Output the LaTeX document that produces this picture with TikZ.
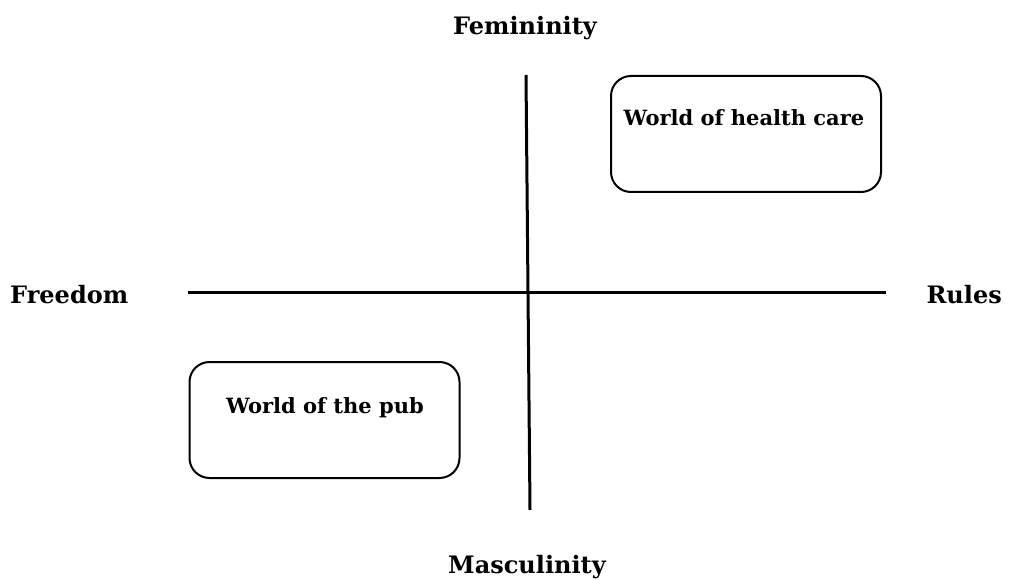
\documentclass[tikz,border=0pt]{standalone}
\usepackage{fontspec}
\setmainfont{DejaVu Serif}[BoldFont={DejaVu Serif Bold}]
\begin{document}
\begin{tikzpicture}[x=1pt,y=-1pt,
  lbl/.style={font=\bfseries\fontsize{24}{28}\selectfont, inner sep=0pt},
  boxlbl/.style={font=\bfseries\fontsize{21}{25}\selectfont, inner sep=0pt},
  box/.style={draw, line width=2pt, rounded corners=20pt, minimum width=270pt, minimum height=116pt, inner sep=0pt},
  axis/.style={line width=3pt}]
\useasboundingbox (0,0) rectangle (1012,580);
% axes end points
\coordinate (L) at (188,292);
\coordinate (R) at (886,292);
\coordinate (T) at (526,75);
\coordinate (B) at (530,510);
\draw[axis] (L) -- (R);
\draw[axis] (T) -- (B);
% labels
\node[lbl] (fem) at (525,28) {Femininity};
\node[lbl] (mas) at (527,567) {Masculinity};
\node[lbl, anchor=west] (free) at (10,295) {Freedom};
\node[lbl, anchor=east] (rules) at (1002,295) {Rules};
% boxes
\node[box] (hc) at (746,134) {};
\node[boxlbl] (hct) at (744,118) {World of health care};
\node[box] (pub) at (324.5,420) {};
\node[boxlbl] (pubt) at (325,408) {World of the pub};
\end{tikzpicture}
\end{document}
